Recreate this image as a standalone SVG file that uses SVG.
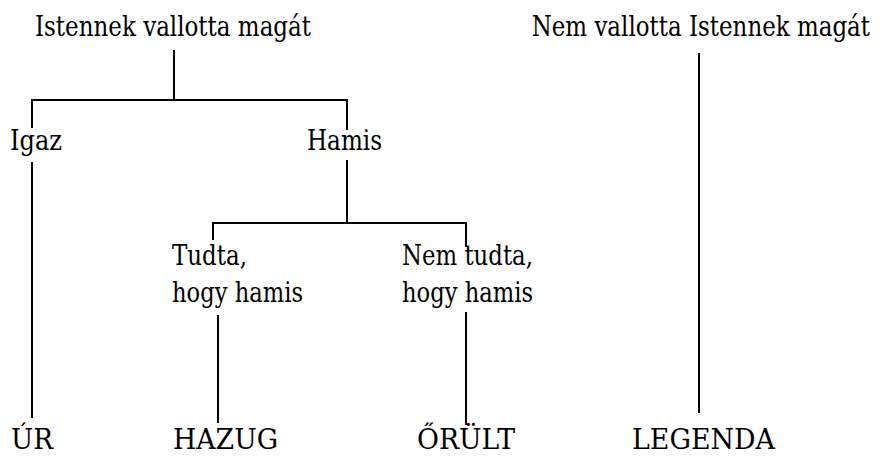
<svg xmlns="http://www.w3.org/2000/svg" width="880" height="456" viewBox="0 0 880 456">
<style>
text{font-family:'DejaVu Serif','Liberation Serif',serif;font-size:28px;fill:#000}
.c line{stroke:#000;stroke-width:2}
</style>
<rect width="880" height="456" fill="#fff"/>
<g id="connectors" class="c">
<line x1="174" y1="50" x2="174" y2="101"/>
<line x1="31" y1="100" x2="348" y2="100"/>
<line x1="32" y1="100" x2="32" y2="128"/>
<line x1="347" y1="100" x2="347" y2="130"/>
<line x1="32" y1="162" x2="32" y2="418"/>
<line x1="347" y1="160" x2="347" y2="224"/>
<line x1="212" y1="223" x2="467" y2="223"/>
<line x1="213" y1="223" x2="213" y2="240"/>
<line x1="466" y1="223" x2="466" y2="247"/>
<line x1="218" y1="315" x2="218" y2="423"/>
<line x1="466" y1="312" x2="466" y2="425"/>
<line x1="699" y1="53" x2="699" y2="413"/>
</g>
<g id="n-istennek"><text x="35" y="36" textLength="276" lengthAdjust="spacingAndGlyphs">Istennek vallotta magát</text></g>
<g id="n-nem-vallotta"><text transform="translate(870 36) scale(0.82 1)" x="0" y="0" text-anchor="end">Nem vallotta Istennek magát</text></g>
<g id="n-igaz"><text x="10" y="150" textLength="52" lengthAdjust="spacingAndGlyphs">Igaz</text></g>
<g id="n-hamis"><text x="307" y="150" textLength="75" lengthAdjust="spacingAndGlyphs">Hamis</text></g>
<g id="n-tudta"><text x="172" y="265" textLength="75" lengthAdjust="spacingAndGlyphs">Tudta,</text><text x="172" y="302" textLength="131" lengthAdjust="spacingAndGlyphs">hogy hamis</text></g>
<g id="n-nem-tudta"><text x="402" y="265" textLength="131" lengthAdjust="spacingAndGlyphs">Nem tudta,</text><text x="402" y="302" textLength="131" lengthAdjust="spacingAndGlyphs">hogy hamis</text></g>
<g id="n-ur"><text x="11" y="449" textLength="42" lengthAdjust="spacingAndGlyphs">ÚR</text></g>
<g id="n-hazug"><text x="173" y="449" textLength="105" lengthAdjust="spacingAndGlyphs">HAZUG</text></g>
<g id="n-orult"><text x="417" y="449" textLength="98" lengthAdjust="spacingAndGlyphs">ŐRÜLT</text></g>
<g id="n-legenda"><text x="632" y="449" textLength="143" lengthAdjust="spacingAndGlyphs">LEGENDA</text></g>
</svg>
